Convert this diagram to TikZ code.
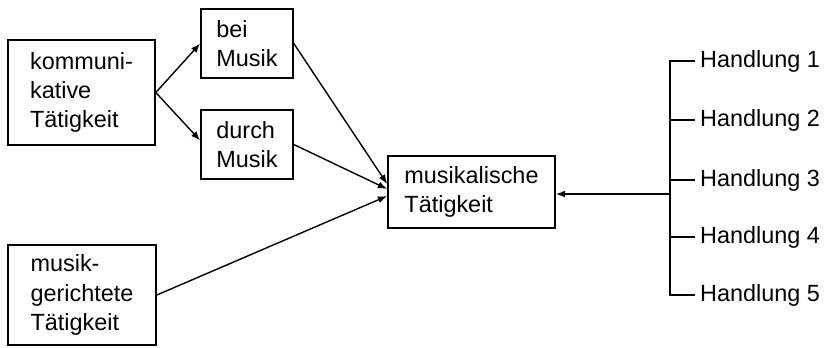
\documentclass[tikz,border=0pt]{standalone}
\usepackage{fontspec}
\setmainfont{Liberation Sans}
\usepackage{tikz}
\usetikzlibrary{arrows.meta, positioning, calc}

\begin{document}
\begin{tikzpicture}[x=0.015cm, y=-0.015cm, >={Latex[length=4pt,width=3pt]},
  kasten/.style={draw, line width=0.7pt, align=left, inner sep=0pt,
    font=\fontsize{10}{12.5}\selectfont},
  handlung/.style={anchor=west, inner sep=2pt, font=\fontsize{10}{12}\selectfont},
  pfeil/.style={->, line width=0.6pt}]
  \useasboundingbox (0,0) rectangle (832,347);
  % Kaesten
  \node[kasten, minimum width=147*0.015cm, minimum height=105*0.015cm] (komm) at (81.5,92.5) {kommuni-\\kative\\Tätigkeit};
  \node[kasten, minimum width=92*0.015cm, minimum height=69*0.015cm] (bei) at (247,43.5) {bei\\Musik};
  \node[kasten, minimum width=92*0.015cm, minimum height=69*0.015cm] (durch) at (247,144.5) {durch\\Musik};
  \node[kasten, minimum width=148*0.015cm, minimum height=100*0.015cm] (gericht) at (82,295) {musik-\\gerichtete\\Tätigkeit};
  \node[kasten, minimum width=167*0.015cm, minimum height=72*0.015cm] (mt) at (471.5,192) {musikalische\\Tätigkeit};
  % Handlungen
  \foreach \i/\y in {1/61, 2/120, 3/180, 4/237, 5/295}
    \node[handlung] (h\i) at (695,\y) {Handlung \i};
  \coordinate (sp) at (670,194);
  % Verbindungen
  \draw[pfeil] (komm.east) -- (bei.west);
  \draw[pfeil] (komm.east) -- ($(durch.west)+(0,-4)$);
  \draw[pfeil] (bei.east) -- ($(mt.west)+(0,-8)$);
  \draw[pfeil] (durch.east) -- ($(mt.west)+(0,-3)$);
  \draw[pfeil] (gericht.east) -- ($(mt.west)+(0,4)$);
  \draw[line width=0.6pt] (h1.west) -- ++(-25,0) |- (h5.west);
  \foreach \i in {2,3,4}
    \draw[line width=0.6pt] (h\i.west) -- ++(-25,0);
  \draw[pfeil] (sp) -- (sp -| mt.east);
\end{tikzpicture}
\end{document}
